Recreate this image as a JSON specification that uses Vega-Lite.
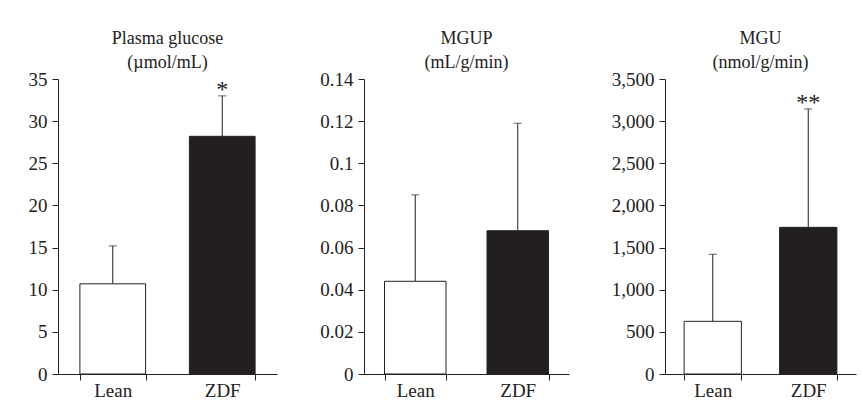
{
  "$schema": "https://vega.github.io/schema/vega-lite/v6.json",
  "padding": {"left": 28, "top": 30, "right": 5, "bottom": 5},
  "background": "white",
  "data": {"values": [
    {"panel": "glucose", "group": "Lean", "value": 10.7, "upper": 15.2, "star": ""},
    {"panel": "glucose", "group": "ZDF", "value": 28.2, "upper": 33.0, "star": "*"},
    {"panel": "mgup", "group": "Lean", "value": 0.044, "upper": 0.085, "star": ""},
    {"panel": "mgup", "group": "ZDF", "value": 0.068, "upper": 0.119, "star": ""},
    {"panel": "mgu", "group": "Lean", "value": 625, "upper": 1420, "star": ""},
    {"panel": "mgu", "group": "ZDF", "value": 1740, "upper": 3145, "star": "**"}
  ]},
  "spacing": 42,
  "config": {
    "font": "Liberation Serif",
    "view": {"stroke": null},
    "style": {"guide-label": {"font": "Liberation Serif", "fontSize": 19, "fill": "#222"}, "guide-title": {"font": "Liberation Serif"}},
    "axis": {
      "labelFont": "Liberation Serif", "labelFontSize": 19, "labelColor": "#222",
      "domainColor": "#222", "tickColor": "#222", "grid": false, "title": null,
      "tickSize": 6, "labelPadding": 5
    },
    "title": {"font": "Liberation Serif", "fontSize": 18, "fontWeight": "normal", "color": "#222", "anchor": "middle", "lineHeight": 24, "offset": -2}
  },
  "hconcat": [
    {
      "width": 219, "height": 295,
      "title": {"text": ["Plasma glucose", "(µmol/mL)"]},
      "transform": [{"filter": "datum.panel === 'glucose'"}],
      "encoding": {
        "x": {"field": "group", "type": "nominal", "sort": ["Lean", "ZDF"],
              "scale": {"paddingInner": 0.4, "paddingOuter": 0.2},
              "axis": {"labelAngle": 0, "tickBand": "extent", "labelPadding": 1, "labelFont": "Liberation Serif"}}
      },
      "layer": [
        {"mark": {"type": "rule", "color": "#222", "strokeWidth": 1},
         "encoding": {"y": {"field": "value", "type": "quantitative", "scale": {"domain": [0, 35]},
                 "axis": {"values": [0, 5, 10, 15, 20, 25, 30, 35], "labelFont": "Liberation Serif"}}, "y2": {"field": "upper"}}},
        {"mark": {"type": "tick", "color": "#222", "size": 8, "thickness": 1},
         "encoding": {"y": {"field": "upper", "type": "quantitative", "scale": {"domain": [0, 35]}}}},
        {"mark": {"type": "bar", "stroke": "#222", "strokeWidth": 1},
         "encoding": {
           "y": {"field": "value", "type": "quantitative", "scale": {"domain": [0, 35]}},
           "fill": {"field": "group", "type": "nominal", "scale": {"domain": ["Lean", "ZDF"], "range": ["white", "#231f20"]}, "legend": null}
         }},
        {"mark": {"type": "text", "fontSize": 24, "baseline": "alphabetic", "dy": 1, "color": "#222", "font": "Liberation Serif"},
         "encoding": {"y": {"field": "upper", "type": "quantitative", "scale": {"domain": [0, 35]}}, "text": {"field": "star"}}}
      ]
    },
    {
      "width": 205, "height": 295,
      "title": {"text": ["MGUP", "(mL/g/min)"]},
      "transform": [{"filter": "datum.panel === 'mgup'"}],
      "encoding": {
        "x": {"field": "group", "type": "nominal", "sort": ["Lean", "ZDF"],
              "scale": {"paddingInner": 0.4, "paddingOuter": 0.2},
              "axis": {"labelAngle": 0, "tickBand": "extent", "labelPadding": 1, "labelFont": "Liberation Serif"}}
      },
      "layer": [
        {"mark": {"type": "rule", "color": "#222", "strokeWidth": 1},
         "encoding": {"y": {"field": "value", "type": "quantitative", "scale": {"domain": [0, 0.14]},
                 "axis": {"values": [0, 0.02, 0.04, 0.06, 0.08, 0.1, 0.12, 0.14], "labelExpr": "format(datum.value, '~g')", "labelFont": "Liberation Serif"}}, "y2": {"field": "upper"}}},
        {"mark": {"type": "tick", "color": "#222", "size": 8, "thickness": 1},
         "encoding": {"y": {"field": "upper", "type": "quantitative", "scale": {"domain": [0, 0.14]}}}},
        {"mark": {"type": "bar", "stroke": "#222", "strokeWidth": 1},
         "encoding": {
           "y": {"field": "value", "type": "quantitative", "scale": {"domain": [0, 0.14]}},
           "fill": {"field": "group", "type": "nominal", "scale": {"domain": ["Lean", "ZDF"], "range": ["white", "#231f20"]}, "legend": null}
         }}
      ]
    },
    {
      "width": 191, "height": 295,
      "title": {"text": ["MGU", "(nmol/g/min)"]},
      "transform": [{"filter": "datum.panel === 'mgu'"}],
      "encoding": {
        "x": {"field": "group", "type": "nominal", "sort": ["Lean", "ZDF"],
              "scale": {"paddingInner": 0.4, "paddingOuter": 0.2},
              "axis": {"labelAngle": 0, "tickBand": "extent", "labelPadding": 1, "labelFont": "Liberation Serif"}}
      },
      "layer": [
        {"mark": {"type": "rule", "color": "#222", "strokeWidth": 1},
         "encoding": {"y": {"field": "value", "type": "quantitative", "scale": {"domain": [0, 3500]},
                 "axis": {"values": [0, 500, 1000, 1500, 2000, 2500, 3000, 3500], "labelExpr": "format(datum.value, ',')", "labelFont": "Liberation Serif"}}, "y2": {"field": "upper"}}},
        {"mark": {"type": "tick", "color": "#222", "size": 8, "thickness": 1},
         "encoding": {"y": {"field": "upper", "type": "quantitative", "scale": {"domain": [0, 3500]}}}},
        {"mark": {"type": "bar", "stroke": "#222", "strokeWidth": 1},
         "encoding": {
           "y": {"field": "value", "type": "quantitative", "scale": {"domain": [0, 3500]}},
           "fill": {"field": "group", "type": "nominal", "scale": {"domain": ["Lean", "ZDF"], "range": ["white", "#231f20"]}, "legend": null}
         }},
        {"mark": {"type": "text", "fontSize": 24, "baseline": "alphabetic", "dy": 1, "color": "#222", "font": "Liberation Serif"},
         "encoding": {"y": {"field": "upper", "type": "quantitative", "scale": {"domain": [0, 3500]}}, "text": {"field": "star"}}}
      ]
    }
  ],
  "resolve": {"scale": {"y": "independent", "x": "independent"}}
}
